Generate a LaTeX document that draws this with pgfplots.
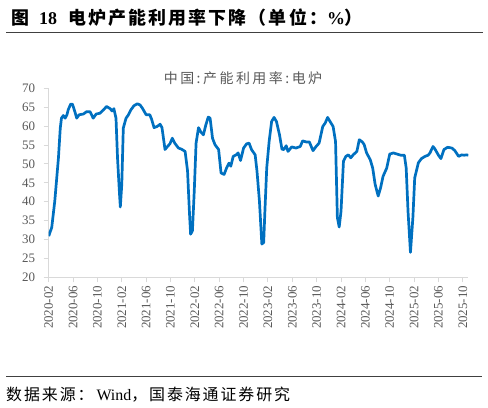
\documentclass[border=0pt]{standalone}
\usepackage{pgfplots}
\pgfplotsset{compat=1.18}
\usepackage{fontspec}
\setmainfont{Liberation Serif}
\newfontfamily\cjk{Noto Sans CJK SC}
\newfontfamily\cjktitle[LetterSpace=12]{Noto Sans CJK SC}
\newfontfamily\cjksrc[LetterSpace=12]{Noto Sans CJK SC}
\newfontfamily\cjkin[LetterSpace=18]{Noto Sans CJK SC}
\definecolor{lineblue}{HTML}{0070C0}
\definecolor{axgray}{HTML}{D9D9D9}
\definecolor{txtgray}{HTML}{595959}

\begin{document}
\begin{tikzpicture}[x=1bp,y=1bp]
\path[use as bounding box] (0,0) rectangle (488,407);
% header and footer
\node[anchor=west, inner sep=0pt, font=\cjktitle\bfseries\fontsize{18}{20}\selectfont] at (11,389)
  {图\hspace{10bp}{\rmfamily\bfseries 18}\hspace{11bp}电炉产能利用率下降（单位：{\rmfamily\bfseries\%}）};
\draw[black!75, line width=0.9bp] (6,374.7) -- (483,374.7);
\draw[black!75, line width=0.9bp] (6,30.3) -- (482,30.3);
\node[anchor=west, inner sep=0pt, font=\cjksrc\fontsize{16}{18}\selectfont] at (6,12)
  {数据来源：\hspace{3bp}{\rmfamily Wind}，国泰海通证券研究};
\node[font=\cjkin\fontsize{14}{16}\selectfont, text=txtgray] at (243,329)
  {中国:产能利用率:电炉};

\begin{axis}[
    at={(48.7bp,129.7bp)}, anchor=south west,
    scale only axis,
    width=419.6bp, height=189bp,
    xmin=0, xmax=68.9,
    ymin=20, ymax=70,
    axis x line*=bottom, axis y line*=left,
    axis line style={axgray, line width=1bp},
    tick style={axgray, line width=1bp},
    tick align=outside,
    major tick length=5bp,
    xtick={0,4,...,68},
    xticklabels={2020-02,2020-06,2020-10,2021-02,2021-06,2021-10,
                 2022-02,2022-06,2022-10,2023-02,2023-06,2023-10,
                 2024-02,2024-06,2024-10,2025-02,2025-06,2025-10},
    ytick={20,25,...,70},
    /pgf/number format/assume math mode=true,
    ticklabel style={text=txtgray, font=\fontsize{13}{13}\selectfont},
    xticklabel style={rotate=90, anchor=east},
    yticklabel style={xshift=-5bp},
]
\addplot[lineblue, line width=2.7bp, line join=round] coordinates {
(0,30.9) (0.5,33.2) (1.0,40.2) (1.6,51.6) (1.9,59.5) (2.1,62.1) (2.4,62.8)
(2.7,62.1) (3.0,63.0) (3.2,64.3) (3.6,65.8) (3.9,65.8) (4.3,63.8) (4.6,62.1)
(5.0,63.0) (5.7,63.2) (6.2,63.8) (6.8,63.8) (7.1,62.8) (7.3,62.1) (7.8,63.2)
(8.4,63.4) (9.0,64.3) (9.5,65.2) (10.1,64.6) (10.4,64.0) (10.7,64.6) (11.05,62.1)
(11.3,51.6) (11.6,42.8) (11.76,38.6) (12.0,44.6) (12.25,59.5) (12.7,62.1) (13.1,63.0)
(13.5,64.3) (14.0,65.4) (14.55,65.9) (15.0,65.6) (15.4,64.7) (16.0,63.0) (16.6,63.0)
(16.9,61.8) (17.3,59.6) (17.8,59.9) (18.3,60.5) (18.6,59.6) (19.1,53.8) (19.5,54.6)
(19.9,55.3) (20.3,56.8) (20.7,55.5) (21.3,54.2) (21.8,53.9) (22.4,53.3) (22.8,48.1)
(23.1,37.5) (23.3,31.4) (23.6,32.3) (23.9,42.8) (24.2,55.5) (24.6,59.6) (25.0,58.4)
(25.4,57.7) (25.8,60.3) (26.2,62.4) (26.5,62.1) (26.9,56.8) (27.3,55.1) (27.9,53.8)
(28.3,47.6) (28.8,47.2) (29.2,48.9) (29.6,50.2) (29.9,49.4) (30.3,52.0) (30.8,52.4)
(31.1,52.9) (31.5,50.9) (32.0,54.2) (32.5,55.3) (32.9,55.5) (33.3,53.8) (33.9,52.4)
(34.2,48.1) (34.6,40.2) (35.0,28.8) (35.3,29.2) (35.5,37.5) (35.8,48.9) (36.2,56.0)
(36.6,61.2) (37.0,62.3) (37.4,61.2) (37.9,57.7) (38.3,53.9) (38.6,53.8) (39.0,54.8)
(39.3,53.3) (39.9,54.5) (40.6,54.2) (41.3,54.6) (41.7,56.1) (42.3,55.8) (42.8,55.8)
(43.4,53.5) (43.9,54.6) (44.4,55.5) (45.0,59.9) (45.4,60.8) (45.8,62.3) (46.2,61.2)
(46.7,59.9) (47.1,55.9) (47.4,35.8) (47.7,33.3) (48.0,37.5) (48.4,50.7) (48.8,52.0)
(49.2,52.4) (49.6,51.6) (50.0,52.4) (50.6,53.3) (51.0,56.4) (51.5,55.8) (51.8,55.1)
(52.2,52.9) (52.8,51.1) (53.2,48.9) (53.6,44.6) (54.1,41.5) (54.5,43.7) (54.9,46.7)
(55.5,48.9) (56.0,52.6) (56.6,52.9) (57.2,52.6) (57.8,52.3) (58.4,52.3) (58.7,48.9)
(59.0,37.5) (59.4,26.6) (59.8,35.8) (60.1,46.3) (60.7,50.3) (61.2,51.4) (61.8,52.0)
(62.3,52.3) (62.6,52.9) (63.1,54.6) (63.4,54.0) (64.0,52.3) (64.4,51.4) (64.9,53.8)
(65.5,54.4) (66.2,54.2) (66.7,53.5) (67.3,52.0) (67.8,52.4) (68.2,52.3) (68.6,52.4)
(68.9,52.3)
};
\end{axis}
\end{tikzpicture}
\end{document}
